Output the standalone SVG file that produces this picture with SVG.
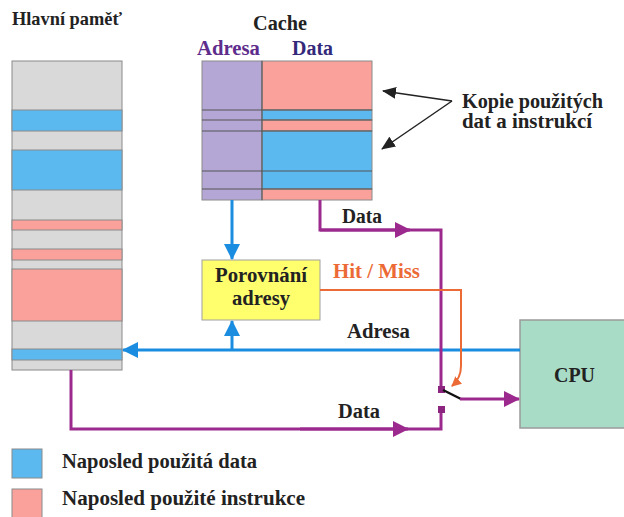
<svg xmlns="http://www.w3.org/2000/svg" width="624" height="517" viewBox="0 0 624 517">
  <style>
    .t { font-family: "Liberation Serif", "DejaVu Serif", "Times New Roman", serif; font-weight: bold; fill: #222; font-size: 20px; }
    .cell { stroke: #8a8a8a; stroke-width: 1; }
    .gray { fill: #d9d9d9; }
    .blue { fill: #5bb9f0; }
    .red { fill: #f9a19a; }
    .lav { fill: #b4a7d6; }
    .bus-blue { stroke: #1a8de0; stroke-width: 3; fill: none; }
    .bus-purple { stroke: #9c2a8e; stroke-width: 3; fill: none; }
    .ctl { stroke: #ec6a36; stroke-width: 2; fill: none; }
    .thin { stroke: #222; stroke-width: 1.5; fill: none; }
  </style>
  <defs>
    <marker id="hb" markerWidth="16" markerHeight="16" viewBox="0 0 16 16" refX="15" refY="8" orient="auto" markerUnits="userSpaceOnUse">
      <path d="M0,0 L16,8 L0,16 z" fill="#1a8de0"/>
    </marker>
    <marker id="hp" markerWidth="16" markerHeight="16" viewBox="0 0 16 16" refX="15" refY="8" orient="auto" markerUnits="userSpaceOnUse">
      <path d="M0,0 L16,8 L0,16 z" fill="#9c2a8e"/>
    </marker>
    <marker id="ho" markerWidth="10" markerHeight="10" viewBox="0 0 10 10" refX="9" refY="5" orient="auto" markerUnits="userSpaceOnUse">
      <path d="M0,0 L10,5 L0,10 z" fill="#ec6a36"/>
    </marker>
    <marker id="hk" markerWidth="14" markerHeight="12" viewBox="0 0 14 12" refX="13" refY="6" orient="auto" markerUnits="userSpaceOnUse">
      <path d="M0,0 L14,6 L0,12 z" fill="#222"/>
    </marker>
  </defs>

  <!-- main memory -->
  <g id="main-memory">
    <text class="t" x="12" y="25" style="font-size:19px" textLength="110" lengthAdjust="spacingAndGlyphs">Hlavní paměť</text>
    <rect class="cell gray" x="12" y="61" width="110" height="309"/>
    <rect class="cell blue" x="12" y="110" width="110" height="21"/>
    <rect class="cell blue" x="12" y="150" width="110" height="40"/>
    <rect class="cell red" x="12" y="220" width="110" height="10"/>
    <rect class="cell red" x="12" y="249" width="110" height="11"/>
    <rect class="cell red" x="12" y="269" width="110" height="52"/>
    <rect class="cell blue" x="12" y="349" width="110" height="11"/>
  </g>

  <!-- cache -->
  <g id="cache">
    <text class="t" x="253" y="30" textLength="54" lengthAdjust="spacingAndGlyphs">Cache</text>
    <text class="t" x="197" y="55" style="fill:#5e2d8c" textLength="63" lengthAdjust="spacingAndGlyphs">Adresa</text>
    <text class="t" x="292" y="55" style="fill:#33297a" textLength="41" lengthAdjust="spacingAndGlyphs">Data</text>
    <rect class="cell lav" x="202" y="61" width="60" height="139"/>
    <rect class="cell red" x="262" y="61" width="110" height="49"/>
    <rect class="cell blue" x="262" y="110" width="110" height="10"/>
    <rect class="cell red" x="262" y="120" width="110" height="11"/>
    <rect class="cell blue" x="262" y="131" width="110" height="58"/>
    <rect class="cell red" x="262" y="189" width="110" height="11"/>
    <g stroke="#555" stroke-width="1">
      <line x1="202" y1="110" x2="372" y2="110"/>
      <line x1="202" y1="120" x2="372" y2="120"/>
      <line x1="202" y1="131" x2="372" y2="131"/>
      <line x1="202" y1="171" x2="372" y2="171"/>
      <line x1="202" y1="189" x2="372" y2="189"/>
      <line x1="262" y1="61" x2="262" y2="200"/>
    </g>
  </g>

  <!-- annotation -->
  <g id="copies-note">
    <text class="t" x="462" y="108" textLength="141" lengthAdjust="spacingAndGlyphs">Kopie použitých</text>
    <text class="t" x="462" y="128" textLength="130" lengthAdjust="spacingAndGlyphs">dat a instrukcí</text>
    <line class="thin" x1="452" y1="101" x2="383" y2="91" marker-end="url(#hk)"/>
    <line class="thin" x1="452" y1="101" x2="382" y2="149" marker-end="url(#hk)"/>
  </g>

  <!-- address comparator -->
  <g id="comparator">
    <rect x="202" y="260" width="118" height="60" fill="#ffff6e" stroke="#a0a0a0" stroke-width="1"/>
    <text class="t" x="215" y="282" textLength="92" lengthAdjust="spacingAndGlyphs">Porovnání</text>
    <text class="t" x="232" y="305" textLength="58" lengthAdjust="spacingAndGlyphs">adresy</text>
  </g>

  <!-- CPU -->
  <g id="cpu">
    <rect x="520" y="320" width="110" height="108" fill="#a8dcc6" stroke="#9a9a9a" stroke-width="1.5"/>
    <text class="t" x="554" y="382" style="font-size:21px" textLength="41" lengthAdjust="spacingAndGlyphs">CPU</text>
  </g>

  <!-- connectors -->
  <g id="connectors">
    <!-- address bus -->
    <line class="bus-blue" x1="520" y1="350" x2="123" y2="350" marker-end="url(#hb)"/>
    <line class="bus-blue" x1="232" y1="350" x2="232" y2="321" marker-end="url(#hb)"/>
    <line class="bus-blue" x1="232" y1="200" x2="232" y2="259" marker-end="url(#hb)"/>
    <text class="t" x="347" y="338" textLength="63" lengthAdjust="spacingAndGlyphs">Adresa</text>

    <!-- data from cache -->
    <polyline class="bus-purple" points="320,200 320,230 441,230 441,389"/>
    <line class="bus-purple" x1="320" y1="230" x2="410" y2="230" marker-end="url(#hp)"/>
    <text class="t" x="342" y="223" textLength="40" lengthAdjust="spacingAndGlyphs">Data</text>

    <!-- data from main memory -->
    <polyline class="bus-purple" points="71,370 71,429 441,429 441,410"/>
    <line class="bus-purple" x1="300" y1="429" x2="408" y2="429" marker-end="url(#hp)"/>
    <text class="t" x="338" y="418" textLength="42" lengthAdjust="spacingAndGlyphs">Data</text>

    <!-- selector switch -->
    <rect x="438" y="386" width="7" height="7" fill="#8c2580"/>
    <rect x="438" y="406" width="7" height="7" fill="#8c2580"/>
    <line x1="443" y1="390" x2="461" y2="399" stroke="#111" stroke-width="2.5"/>
    <line class="bus-purple" x1="460" y1="399" x2="519" y2="399" marker-end="url(#hp)"/>

    <!-- hit / miss control -->
    <path class="ctl" d="M320,290 L461,290 L461,366 Q461,378 452,386" marker-end="url(#ho)"/>
    <text class="t" x="333" y="278" style="fill:#ec6a36" textLength="87" lengthAdjust="spacingAndGlyphs">Hit / Miss</text>
  </g>

  <!-- legend -->
  <g id="legend">
    <rect class="cell blue" x="12" y="449" width="30" height="29"/>
    <rect class="cell red" x="12" y="489" width="30" height="30"/>
    <text class="t" x="62" y="468" textLength="195" lengthAdjust="spacingAndGlyphs">Naposled použitá data</text>
    <text class="t" x="62" y="505" textLength="243" lengthAdjust="spacingAndGlyphs">Naposled použité instrukce</text>
  </g>
</svg>
